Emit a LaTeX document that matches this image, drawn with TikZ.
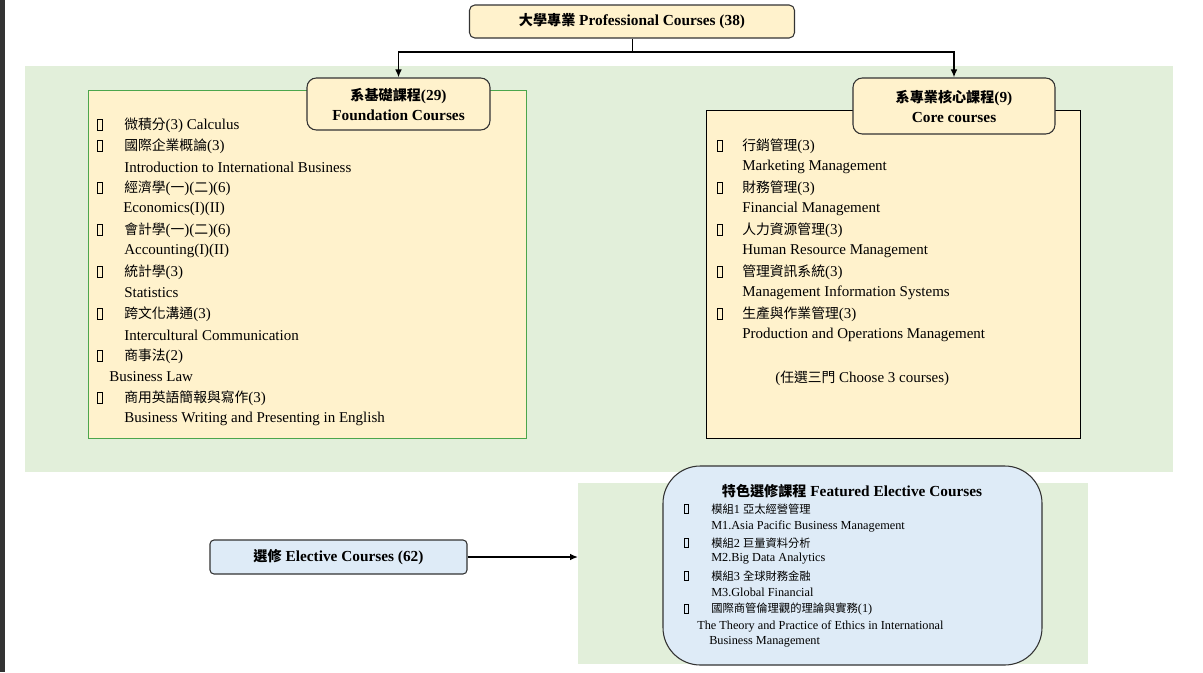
\documentclass[tikz,border=0pt]{standalone}
\usepackage{fontspec}
\usetikzlibrary{arrows.meta}
\setmainfont{Liberation Serif}
\newfontfamily\cjk[Scale=0.92]{Noto Sans CJK TC}
\newcommand\tofu{{\setlength\fboxsep{0pt}\setlength\fboxrule{0.5pt}\fbox{\phantom{\rule{0.28em}{0.72em}}}}}
\begin{document}
\begin{tikzpicture}[x=0.75pt,y=-0.75pt,
  txt/.style={anchor=west,inner sep=0pt,font=\fontsize{11.25}{13}\selectfont},
  sm/.style={anchor=west,inner sep=0pt,font=\fontsize{9.2}{11}\selectfont},
  arr/.style={-{Latex[length=6pt,width=5pt]},line width=1.3pt}]
\definecolor{cream}{HTML}{FFF2CC}
\definecolor{lgreen}{HTML}{E2EFDA}
\definecolor{lblue}{HTML}{DEEBF7}
\useasboundingbox (0,0) rectangle (1203,672);
\fill[black!80] (0,0) rectangle (5,672);
% green regions
\fill[lgreen] (25,66) rectangle (1173,472);
\fill[lgreen] (578,483) rectangle (1088,664);
% top
\node[draw=black!80,line width=0.8pt,rounded corners=4pt,fill=cream,minimum width=325*0.75pt,minimum height=33*0.75pt,font=\bfseries\fontsize{11.5}{14}\selectfont] (top) at (632,21.5) {{\cjk 大學專業} Professional Courses (38)};
% content boxes
\node[draw=green!50!black!70,line width=0.6pt,fill=cream,minimum width=438*0.75pt,minimum height=348*0.75pt] (lbox) at (307,264) {};
\node[draw=black,line width=0.6pt,fill=cream,minimum width=374*0.75pt,minimum height=328*0.75pt] (rbox) at (893,274) {};
% headers
\node[draw=black!80,line width=0.8pt,rounded corners=7pt,fill=cream,minimum width=183*0.75pt,minimum height=52*0.75pt,align=center,font=\bfseries\fontsize{11.5}{15}\selectfont] (fh) at (398.5,104) {{\cjk 系基礎課程}(29)\\Foundation Courses};
\node[draw=black!80,line width=0.8pt,rounded corners=7pt,fill=cream,minimum width=202*0.75pt,minimum height=56*0.75pt,align=center,font=\bfseries\fontsize{11.5}{15}\selectfont] (ch) at (954,106) {{\cjk 系專業核心課程}(9)\\Core courses};
\coordinate (j) at (632,52);
\draw[line width=0.6pt] (top.south) -- (j);
\draw[arr] (j) -| (fh.north);
\draw[arr] (j) -| (ch.north);
% left list
\foreach \y [count=\i] in {125,146,188,230,272,314,356,398}
  \node[txt] (lb\i) at (97,\y) {\tofu};
\node[txt] (l1) at (124,125) {{\cjk 微積分}(3) Calculus};
\node[txt] (l2) at (124,146) {{\cjk 國際企業概論}(3)};
\node[txt] (l3) at (124,167) {Introduction to International Business};
\node[txt] (l4) at (124,188) {{\cjk 經濟學}({\cjk 一})({\cjk 二})(6)};
\node[txt] (l5) at (123,209) {Economics(I)(II)};
\node[txt] (l6) at (124,230) {{\cjk 會計學}({\cjk 一})({\cjk 二})(6)};
\node[txt] (l7) at (124,251) {Accounting(I)(II)};
\node[txt] (l8) at (124,272) {{\cjk 統計學}(3)};
\node[txt] (l9) at (124,293) {Statistics};
\node[txt] (l10) at (124,314) {{\cjk 跨文化溝通}(3)};
\node[txt] (l11) at (124,335) {Intercultural Communication};
\node[txt] (l12) at (124,356) {{\cjk 商事法}(2)};
\node[txt] (l13) at (109,377) {Business Law};
\node[txt] (l14) at (124,398) {{\cjk 商用英語簡報與寫作}(3)};
\node[txt] (l15) at (124,419) {Business Writing and Presenting in English};
% right list
\foreach \y [count=\i] in {146,188,230,272,314}
  \node[txt] (rb\i) at (717,\y) {\tofu};
\node[txt] (r1) at (742,146) {{\cjk 行銷管理}(3)};
\node[txt] (r2) at (742,167) {Marketing Management};
\node[txt] (r3) at (742,188) {{\cjk 財務管理}(3)};
\node[txt] (r4) at (742,209) {Financial Management};
\node[txt] (r5) at (742,230) {{\cjk 人力資源管理}(3)};
\node[txt] (r6) at (742,251) {Human Resource Management};
\node[txt] (r7) at (742,272) {{\cjk 管理資訊系統}(3)};
\node[txt] (r8) at (742,293) {Management Information Systems};
\node[txt] (r9) at (742,314) {{\cjk 生產與作業管理}(3)};
\node[txt] (r10) at (742,335) {Production and Operations Management};
\node[txt] (r11) at (775,378) {({\cjk 任選三門} Choose 3 courses)};
% featured
\node[draw=black!80,line width=0.8pt,rounded corners=28pt,fill=lblue,minimum width=379*0.75pt,minimum height=199*0.75pt] (fe) at (852.5,565.5) {};
\node[font=\bfseries\fontsize{11.5}{14}\selectfont,inner sep=0pt] (fet) at (852,491) {{\cjk 特色選修課程} Featured Elective Courses};
\foreach \y [count=\i] in {509,543,576,609}
  \node[sm] (fb\i) at (684,\y) {\tofu};
\node[sm] (f1) at (711,509) {{\cjk 模組}1 {\cjk 亞太經營管理}};
\node[sm] (f2) at (711,526) {M1.Asia Pacific Business Management};
\node[sm] (f3) at (711,543) {{\cjk 模組}2 {\cjk 巨量資料分析}};
\node[sm] (f4) at (711,559) {M2.Big Data Analytics};
\node[sm] (f5) at (711,576) {{\cjk 模組}3 {\cjk 全球財務金融}};
\node[sm] (f6) at (711,592) {M3.Global Financial};
\node[sm] (f7) at (711,609) {{\cjk 國際商管倫理觀的理論與實務}(1)};
\node[sm] (f8) at (697,626) {The Theory and Practice of Ethics in  International};
\node[sm] (f9) at (709,642) {Business Management};
% elective
\node[draw=black!80,line width=0.8pt,rounded corners=3pt,fill=lblue,minimum width=257*0.75pt,minimum height=34*0.75pt,font=\bfseries\fontsize{11.5}{14}\selectfont] (el) at (338.5,557) {{\cjk 選修} Elective Courses (62)};
\coordinate (g2) at (578,557);
\draw[-{Latex[length=6pt,width=5pt]},line width=1.1pt] (el.east) -- (g2);
\end{tikzpicture}
\end{document}
